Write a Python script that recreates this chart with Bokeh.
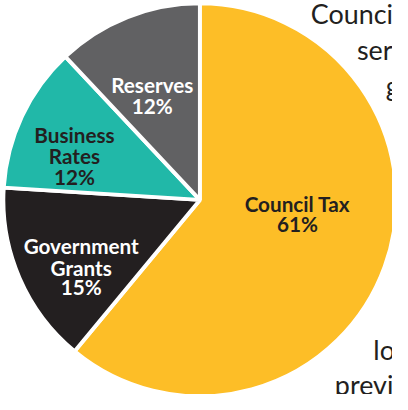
import numpy as np
from bokeh.plotting import figure
from bokeh.models import Range1d
from bokeh.core.properties import value
from bokeh.embed import file_html
from bokeh.resources import INLINE

# ---- data ----
categories = ["Council Tax", "Government Grants", "Business Rates", "Reserves"]
shares = [61, 15, 12, 12]
label_lines = [["Council Tax", "61%"], ["Government", "Grants", "15%"],
               ["Business", "Rates", "12%"], ["Reserves", "12%"]]
body_words = ["Council", "ser", "g", "lo", "previ"]

# ---- layout / style (reference pixel coordinates, 408 x 410) ----
colors = ["#FDBE27", "#231F20", "#21B8A8", "#616163"]
text_colors = ["#231F20", "#FFFFFF", "#231F20", "#FFFFFF"]
label_x = [309, 84, 77, 158]
label_baselines = [[212, 233], [255, 278, 298], [140, 162, 184], [88, 110]]
body_x = [323, 371, 401, 388, 348]
body_y = [14, 51, 88, 363, 400]

REF_W, REF_H = 408, 410
W, H = 392, 394
K = W / REF_W
CX, CY = 207.5, 207.5  # pie centre
R = 204.5

p = figure(width=W, height=H, output_backend="svg", toolbar_location=None,
           x_range=Range1d(-CX, REF_W - CX),
           y_range=Range1d(CY - REF_H, CY),
           min_border=0)
p.axis.visible = False
p.grid.visible = False
p.outline_line_color = None
p.background_fill_color = "white"
p.border_fill_color = "white"

frac = np.array(shares, dtype=float) / sum(shares)
cum = np.concatenate([[0], np.cumsum(frac)])
start = np.pi / 2 - cum[:-1] * 2 * np.pi
end = np.pi / 2 - cum[1:] * 2 * np.pi

p.wedge(x=0, y=0, radius=R, start_angle=start, end_angle=end,
        direction="clock", fill_color=colors, line_color="white", line_width=4 * K)

for i, lines in enumerate(label_lines):
    xs = [label_x[i] - CX] * len(lines)
    ys = [CY - b for b in label_baselines[i]]
    p.text(x=xs, y=ys, text=lines, text_align="center", text_baseline="alphabetic",
           text_font=value("Lato"), text_font_style="bold",
           text_font_size=f"{21.5 * K:.1f}px", text_color=text_colors[i])

p.text(x=[bx - CX for bx in body_x], y=[CY - by for by in body_y], text=body_words,
       text_align="left", text_baseline="alphabetic", text_font=value("Lato"),
       text_font_size=f"{28 * K:.1f}px", text_color="#231F20")

open("out.html", "w").write(file_html(p, INLINE))
